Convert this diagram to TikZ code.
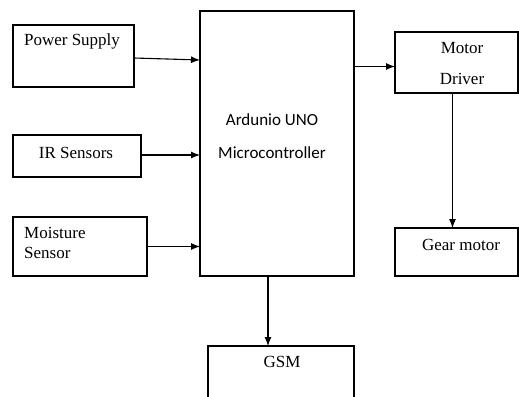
\documentclass[tikz,border=0pt]{standalone}
\usepackage{fontspec}
\setmainfont{Liberation Serif}
\newfontfamily\calfont{Carlito}
\usetikzlibrary{arrows.meta,calc}
\begin{document}
\begin{tikzpicture}[x=1pt,y=-1pt,
  box/.style={draw, line width=1.1pt, inner sep=0pt, outer sep=0pt, anchor=north west},
  lbl/.style={inner sep=0pt, font=\fontsize{17}{19}\selectfont},
  clbl/.style={inner sep=0pt, font=\calfont\fontsize{17}{19}\selectfont},
  arr/.style={draw, line width=1.1pt, -{Latex[length=9pt,width=7pt]}}]
\clip (0,0) rectangle (519,396);
\fill[white] (0,0) rectangle (519,396);
% boxes
\node[box, minimum width=121pt, minimum height=62pt] (ps) at (13,25) {};
\node[box, minimum width=128pt, minimum height=42pt] (ir) at (13,135) {};
\node[box, minimum width=134pt, minimum height=59pt] (ms) at (13,217) {};
\node[box, minimum width=154pt, minimum height=265pt] (ard) at (200,11) {};
\node[box, minimum width=123pt, minimum height=61pt] (md) at (395,32) {};
\node[box, minimum width=123pt, minimum height=48pt] (gm) at (395,228) {};
\node[box, minimum width=146pt, minimum height=70pt] (gsm) at (208,346) {};
% texts
\node[lbl] (tps) at (72,41) {Power Supply};
\node[lbl] (tir) at (76,153) {IR Sensors};
\node[lbl, anchor=west] (tms1) at (24,233) {Moisture};
\node[lbl, anchor=west] (tms2) at (24,253) {Sensor};
\node[clbl] (tard1) at (272,120) {Ardunio UNO};
\node[clbl] (tard2) at (272,153) {Microcontroller};
\node[lbl] (tmd1) at (462,48) {Motor};
\node[lbl] (tmd2) at (462,79) {Driver};
\node[lbl] (tgm) at (461,245) {Gear motor};
\node[lbl] (tgsm) at (282,362) {GSM};
% connectors
\draw[arr] ([yshift=-2pt]ps.east) -- ([yshift=-4pt]ps.east -| ard.west);
\draw[arr] ([yshift=1pt]ir.east) -- ([yshift=1pt]ir.east -| ard.west);
\draw[arr] (ms.east) -- (ms.east -| ard.west);
\draw[arr] ([yshift=-4pt]md.west -| ard.east) -- ([yshift=-4pt]md.west);
\draw[arr] ([xshift=-4pt]md.south) -- ([xshift=-4pt]md.south |- gm.north);
\draw[arr] ([xshift=-9pt]ard.south) -- ([xshift=-9pt]ard.south |- gsm.north);
\end{tikzpicture}
\end{document}
